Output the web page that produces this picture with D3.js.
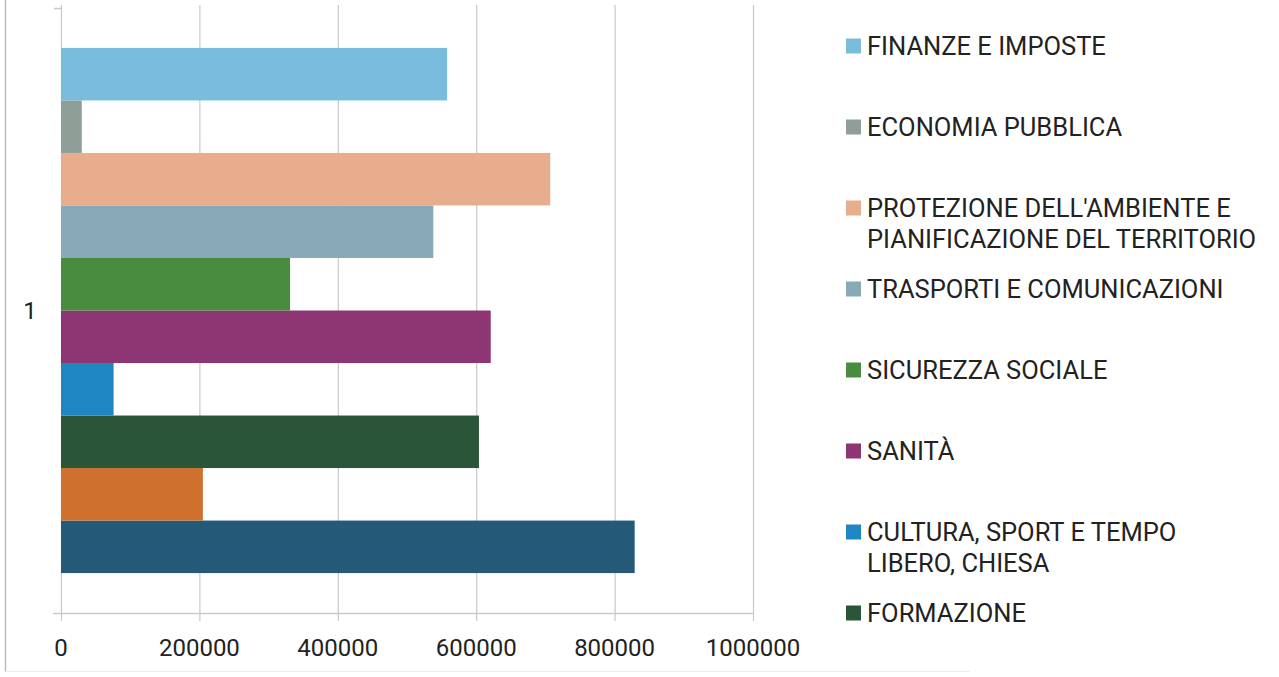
<!DOCTYPE html>
<html>
<head>
<meta charset="utf-8">
<script src="https://cdn.jsdelivr.net/npm/d3@7"></script>
<style>
  body { margin: 0; background: #fff; }
  text { font-family: Roboto, "Liberation Sans", sans-serif; fill: #222; }
</style>
</head>
<body>
<script>
// series in drawing order (first one sits at the bottom, like the spreadsheet)
var seriesNames = [
  "AMMINISTRAZIONE GENERALE",
  "ORDINE PUBBLICO E SICUREZZA, DIFESA",
  "FORMAZIONE",
  "CULTURA, SPORT E TEMPO LIBERO, CHIESA",
  "SANITÀ",
  "SICUREZZA SOCIALE",
  "TRASPORTI E COMUNICAZIONI",
  "PROTEZIONE DELL'AMBIENTE E PIANIFICAZIONE DEL TERRITORIO",
  "ECONOMIA PUBBLICA",
  "FINANZE E IMPOSTE"
];
var seriesValues = [829000, 205000, 604000, 76000, 621000, 331000, 538000, 707000, 30000, 558000];
var seriesColors = ["#245a78", "#d0702f", "#2b5538", "#1e86c2", "#8e3673", "#488d3f", "#88aab6", "#e7ad8c", "#8e9f97", "#79bcdc"];
var categories = ["1"];
var xTicks = [0, 200000, 400000, 600000, 800000, 1000000];

// legend lines as they show (the list is cut off after FORMAZIONE)
var legendItems = [
  {i: 9, lines: ["FINANZE E IMPOSTE"]},
  {i: 8, lines: ["ECONOMIA PUBBLICA"]},
  {i: 7, lines: ["PROTEZIONE DELL'AMBIENTE E", "PIANIFICAZIONE DEL TERRITORIO"]},
  {i: 6, lines: ["TRASPORTI E COMUNICAZIONI"]},
  {i: 5, lines: ["SICUREZZA SOCIALE"]},
  {i: 4, lines: ["SANITÀ"]},
  {i: 3, lines: ["CULTURA, SPORT E TEMPO", "LIBERO, CHIESA"]},
  {i: 2, lines: ["FORMAZIONE"]}
];

var W = 1279, H = 677;
var svg = d3.select("body").append("svg").attr("width", W).attr("height", H);

// frame remnants
svg.append("line").attr("x1", 5.5).attr("x2", 5.5).attr("y1", 0).attr("y2", 672)
   .style("stroke", "#bdbdbd").style("stroke-width", 1.5);
svg.append("line").attr("x1", 5).attr("x2", 970).attr("y1", 671.5).attr("y2", 671.5)
   .style("stroke", "#ececec");

var x = d3.scaleLinear().domain([0, 1000000]).range([61, 753]);
var y = d3.scaleBand().domain(categories).range([8, 613]);
// series are stacked bottom-up, so reverse for the band
var yIn = d3.scaleBand().domain(d3.range(seriesNames.length).reverse())
            .range([0, y.bandwidth()]).paddingOuter(0.76).paddingInner(0);

var grid = "#c9c9c9";

// gridlines with the little ticks below the axis
svg.selectAll(".grid").data(xTicks).enter().append("line")
   .attr("class", "grid")
   .attr("x1", function(d) { return x(d) + 0.5; })
   .attr("x2", function(d) { return x(d) + 0.5; })
   .attr("y1", 5).attr("y2", 621)
   .style("stroke", grid).style("stroke-width", 1.2);

// bottom axis line and left-hand category ticks
svg.append("line").attr("x1", 53).attr("x2", x(1000000)).attr("y1", 613.5).attr("y2", 613.5)
   .style("stroke", grid).style("stroke-width", 1.5);
svg.append("line").attr("x1", 54).attr("x2", 61).attr("y1", 8.5).attr("y2", 8.5)
   .style("stroke", grid).style("stroke-width", 1.5);

svg.selectAll(".bar")
   .data(seriesValues)
   .enter()
   .append("rect")
   .attr("class", "bar")
   .attr("x", x(0))
   .attr("y", function(d, i) { return y("1") + yIn(i); })
   .attr("width", function(d) { return x(d) - x(0); })
   .attr("height", yIn.bandwidth())
   .attr("fill", function(d, i) { return seriesColors[i]; });

// tick labels
svg.selectAll(".xlab").data(xTicks).enter().append("text")
   .attr("x", function(d) { return x(d); })
   .attr("y", 656)
   .attr("text-anchor", "middle")
   .style("font-size", "24px")
   .text(function(d) { return d; });

svg.selectAll(".ylab").data(categories).enter().append("text")
   .attr("x", 30).attr("y", function(d) { return y(d) + y.bandwidth() / 2 + 8; })
   .attr("text-anchor", "middle")
   .style("font-size", "24px")
   .text(function(d) { return d; });

// legend
var lg = svg.selectAll(".lg").data(legendItems).enter().append("g")
   .attr("class", "lg")
   .attr("transform", function(d, k) { return "translate(846," + (54.5 + k * 81) + ")"; });

lg.append("rect")
  .attr("x", 0).attr("y", -16).attr("width", 15).attr("height", 15)
  .attr("fill", function(d) { return seriesColors[d.i]; });

lg.selectAll("text").data(function(d) { return d.lines; }).enter().append("text")
  .attr("x", 21)
  .attr("y", function(d, j) { return j * 31; })
  .style("font-size", "25.5px")
  .text(function(d) { return d; });
</script>
</body>
</html>
